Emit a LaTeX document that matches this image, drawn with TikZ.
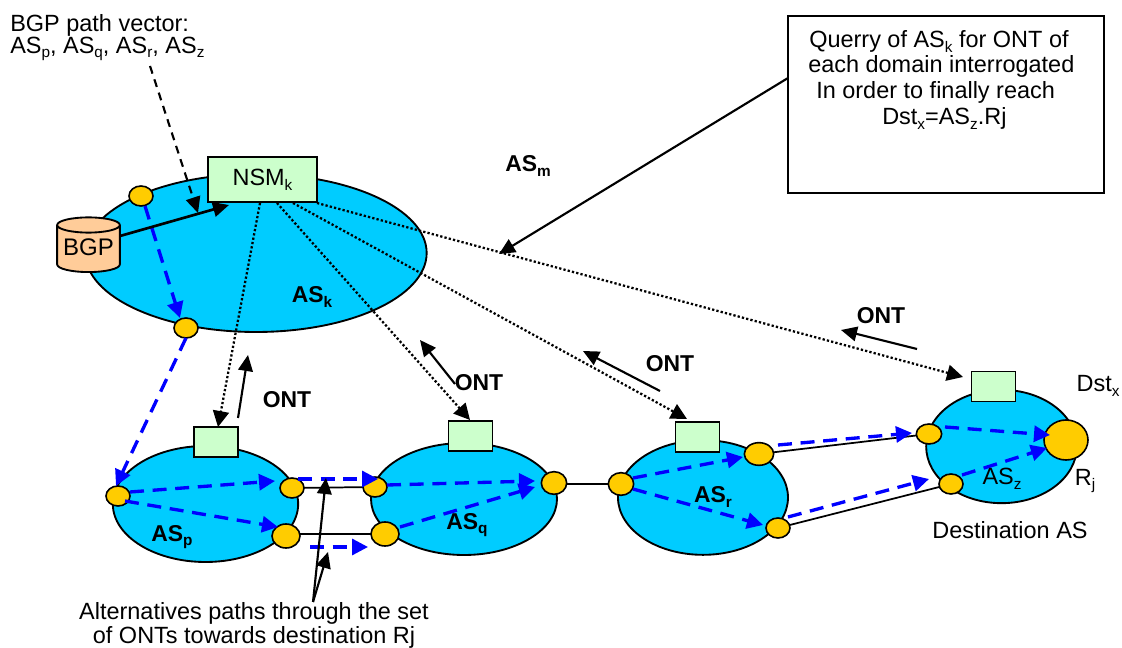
\documentclass[tikz,border=0pt]{standalone}
\usepackage{fontspec}
\setmainfont{Liberation Sans}
\usetikzlibrary{arrows.meta,shapes.geometric}
\definecolor{ascyan}{HTML}{00CCFF}
\definecolor{gate}{HTML}{FFCC00}
\definecolor{mint}{HTML}{CCFFCC}
\definecolor{peach}{HTML}{FFCC99}
\newcommand{\sbs}[1]{{\raisebox{-0.2em}{\fontsize{11.5}{12}\selectfont #1}}}
\tikzset{
  px/.style={x=0.75pt,y=-0.75pt},
  asnet/.style={ellipse,draw=black,line width=1.4pt,fill=ascyan,inner sep=0pt},
  ontbox/.style={rectangle,draw=black,line width=1.4pt,fill=mint,inner sep=0pt,minimum width=33pt,minimum height=22.5pt},
  gatept/.style={ellipse,draw=black,line width=1.2pt,fill=gate,inner sep=0pt},
  link/.style={draw=black,line width=1.3pt},
  route/.style={draw=blue,line width=2.5pt,dash pattern=on 10.5pt off 6.5pt,-{Triangle[length=12pt,width=12pt]}},
  query/.style={draw=black,line width=1.7pt,dash pattern=on 1.7pt off 1.6pt,-{Triangle[length=12pt,width=12pt]}},
  flow/.style={draw=black,line width=1.6pt,-{Triangle[length=12pt,width=11pt]}},
  label/.style={inner sep=0pt,font=\fontsize{17.6}{20}\selectfont},
  blabel/.style={inner sep=0pt,font=\fontsize{17.2}{20}\selectfont\bfseries},
}
\begin{document}
\begin{tikzpicture}[px]
\useasboundingbox (0,0) rectangle (1122,648);
% domains
\node[asnet,minimum width=256pt,minimum height=118.5pt] (ask) at (256,253) {};
\node[asnet,minimum width=139pt,minimum height=87pt] (asp) at (205.5,504) {};
\node[asnet,minimum width=139.5pt,minimum height=84pt] (asq) at (464,499) {};
\node[asnet,minimum width=127.5pt,minimum height=86pt] (asr) at (703,497.5) {};
\node[asnet,minimum width=113pt,minimum height=85pt] (asz) at (1001.5,446.5) {};
% coordinates
\coordinate (nsma) at (260,203);
\coordinate (nsmb) at (277,203);
\coordinate (nsmc) at (293,203);
\coordinate (nsmd) at (317,203);
\coordinate (tipp) at (218,427);
\coordinate (tipq) at (470,420);
\coordinate (tipr) at (687,419);
\coordinate (tipz) at (963,377);
% links
\draw[link] (292,488) coordinate (lp2) -- (375,487) coordinate (lq1);
\draw[link] (286,534) coordinate (lp3) -- (385,534) coordinate (lq2);
\draw[link] (554,484) coordinate (lq3) -- (621,484) coordinate (lr1);
\draw[link] (759,454) coordinate (lr2) -- (929,434) coordinate (lz1);
\draw[link] (778,528) coordinate (lr3) -- (951,484) coordinate (lz2);
% gates
\node[gatept,minimum width=18pt,minimum height=15pt] (g1) at (141,196) {};
\node[gatept,minimum width=18pt,minimum height=15pt] (g2) at (186,328) {};
\node[gatept,minimum width=18pt,minimum height=15pt] (p1) at (118,496) {};
\node[gatept,minimum width=18pt,minimum height=15pt] (p2) at (292,488) {};
\node[gatept,minimum width=21pt,minimum height=18pt] (p3) at (286,536) {};
\node[gatept,minimum width=18pt,minimum height=15pt] (q1) at (375,487) {};
\node[gatept,minimum width=21pt,minimum height=18pt] (q2) at (385,534) {};
\node[gatept,minimum width=19pt,minimum height=17pt] (q3) at (554,483) {};
\node[gatept,minimum width=19pt,minimum height=17pt] (r1) at (621,484) {};
\node[gatept,minimum width=22pt,minimum height=17pt] (r2) at (759,454) {};
\node[gatept,minimum width=18pt,minimum height=15pt] (r3) at (778,528) {};
\node[gatept,minimum width=19pt,minimum height=15pt] (z1) at (929,434) {};
\node[gatept,minimum width=18pt,minimum height=15pt] (z2) at (951,484) {};
\node[gatept,minimum width=33pt,minimum height=30pt] (rj) at (1066,440) {};
% boxes
\node[ontbox,minimum width=81.75pt,minimum height=33.75pt,font=\fontsize{17.6}{20}\selectfont] (nsm) at (262.5,179.5) {NSM\sbs{k}};
\node[ontbox] (bp) at (216,442) {};
\node[ontbox] (bq) at (470.5,436) {};
\node[ontbox] (br) at (697.5,437) {};
\node[ontbox] (bz) at (993.5,386.5) {};
% BGP store
\node[cylinder,shape border rotate=90,aspect=0.3,draw=black,line width=1.4pt,cylinder uses custom fill,cylinder body fill=peach,cylinder end fill=peach,inner sep=0pt,minimum width=47pt,minimum height=41pt,font=\fontsize{18}{20}\selectfont] (bgp) at (88.5,249) {\raisebox{3.4pt}{BGP}};
% routes
\coordinate (a1) at (145,206); \coordinate (a2) at (180,318);
\draw[route] (a1) -- (a2);
\coordinate (b1) at (186,338); \coordinate (b2) at (116,486);
\draw[route] (b1) -- (b2);
\coordinate (c1) at (130,492); \coordinate (c2) at (275,481);
\draw[route] (c1) -- (c2);
\coordinate (d1) at (125,501); \coordinate (d2) at (278,527);
\draw[route] (d1) -- (d2);
\coordinate (e1) at (298,479); \coordinate (e2) at (378,479);
\draw[route] (e1) -- (e2);
\coordinate (f1) at (310,547); \coordinate (f2) at (368,547);
\draw[route] (f1) -- (f2);
\coordinate (h1) at (387,485); \coordinate (h2) at (535,481);
\draw[route] (h1) -- (h2);
\coordinate (i1) at (400,527); \coordinate (i2) at (535,487);
\draw[route] (i1) -- (i2);
\coordinate (j1) at (633,478); \coordinate (j2) at (743,457);
\draw[route] (j1) -- (j2);
\coordinate (k1) at (633,489); \coordinate (k2) at (763,525);
\draw[route] (k1) -- (k2);
\coordinate (l1) at (778,445); \coordinate (l2) at (912,433);
\draw[route] (l1) -- (l2);
\coordinate (m1) at (788,517); \coordinate (m2) at (929,479);
\draw[route] (m1) -- (m2);
\coordinate (n1) at (945,427); \coordinate (n2) at (1050,435);
\draw[route] (n1) -- (n2);
\coordinate (o1) at (962,475); \coordinate (o2) at (1047,448);
\draw[route] (o1) -- (o2);
% queries
\draw[query] (nsma) -- (tipp);
\draw[query] (nsmb) -- (tipq);
\draw[query] (nsmc) -- (tipr);
\draw[query] (nsmd) -- (tipz);
% ONT arrows
\coordinate (s1) at (238,418); \coordinate (s2) at (248,355);
\draw[flow] (s1) -- (s2);
\coordinate (t1) at (455,384); \coordinate (t2) at (420,340);
\draw[flow] (t1) -- (t2);
\coordinate (u1) at (660,391); \coordinate (u2) at (583,351);
\draw[flow] (u1) -- (u2);
\coordinate (v1) at (917,349); \coordinate (v2) at (841,330);
\draw[flow] (v1) -- (v2);
% other arrows
\coordinate (bgpa) at (120,236); \coordinate (nsmt) at (229,205);
\draw[flow,line width=2pt] (bgpa) -- (nsmt);
\coordinate (vec) at (150,66); \coordinate (vect) at (198,213);
\draw[flow,dash pattern=on 6pt off 4.5pt] (vec) -- (vect);
\node[rectangle,draw=black,line width=1.4pt,fill=white,minimum width=237pt,minimum height=132.75pt,inner sep=0pt] (qbox) at (946,104.5) {};
\coordinate (qs) at (788,78); \coordinate (qtip) at (499,254);
\draw[flow] (qs) -- (qtip);
\coordinate (alt) at (313,602); \coordinate (alta) at (326,478); \coordinate (altb) at (328,552);
\draw[flow] (alt) -- (alta);
\draw[flow] (alt) -- (altb);
% labels
\node[label,anchor=west] (tvec) at (10,25) {BGP path vector:};
\node[label,anchor=west] (tvec2) at (10,49) {AS\sbs{p}, AS\sbs{q}, AS\sbs{r}, AS\sbs{z}};
\node[label,anchor=base west] (q1t) at (809,48) {Querry of AS\sbs{k} for ONT of};
\node[label,anchor=base west] (q2t) at (808,73) {each domain interrogated};
\node[label,anchor=base west] (q3t) at (816,99) {In order to finally reach};
\node[label,anchor=base west] (q4t) at (882,125) {Dst\sbs{x}=AS\sbs{z}.Rj};
\node[blabel] (tm) at (528,166) {AS\sbs{m}};
\node[blabel] (tk) at (312,297) {AS\sbs{k}};
\node[blabel] (tp) at (172,537) {AS\sbs{p}};
\node[blabel] (tq) at (467,525) {AS\sbs{q}};
\node[blabel] (tr) at (713,497) {AS\sbs{r}};
\node[label] (tz) at (1002,479) {AS\sbs{z}};
\node[label] (tdst) at (1098,386) {Dst\sbs{x}};
\node[label] (trj) at (1085,481) {R\sbs{j}};
\node[label] (tdest) at (1010,530) {Destination AS};
\node[blabel] (o1t) at (287,400) {ONT};
\node[blabel] (o2t) at (479,383) {ONT};
\node[blabel] (o3t) at (670,364) {ONT};
\node[blabel] (o4t) at (881,316) {ONT};
\node[label] (alt1) at (254,613) {Alternatives paths through the set};
\node[label] (alt2) at (254,637) {of ONTs towards destination Rj};
\end{tikzpicture}
\end{document}
